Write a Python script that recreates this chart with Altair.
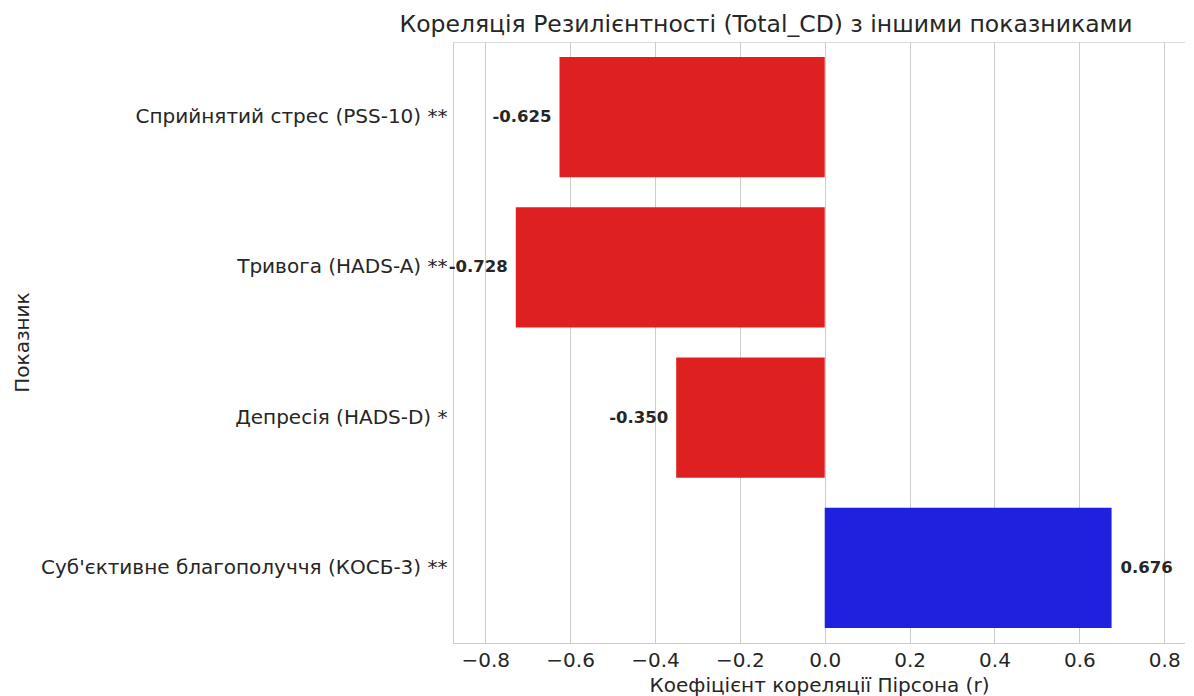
import altair as alt
import pandas as pd

labels = [
    "Сприйнятий стрес (PSS-10) **",
    "Тривога (HADS-A) **",
    "Депресія (HADS-D) *",
    "Суб'єктивне благополуччя (КОСБ-3) **",
]
r_values = [-0.625, -0.728, -0.350, 0.676]
value_text = ["-0.625", "-0.728", "-0.350", "0.676"]
signs = ["neg", "neg", "neg", "pos"]
x_ticks = [-0.8, -0.6, -0.4, -0.2, 0.0, 0.2, 0.4, 0.6, 0.8]

df = pd.DataFrame({"label": labels, "r": r_values, "txt": value_text, "sign": signs})

FONT = "DejaVu Sans"
TXT = "#262626"

x_enc = alt.X(
    "r:Q",
    scale=alt.Scale(domain=[-0.876, 0.849], nice=False, zero=False),
    axis=alt.Axis(
        title="Коефіцієнт кореляції Пірсона (r)",
        values=x_ticks,
        format=".1f",
        ticks=False,
        labelPadding=7,
        titlePadding=5,
        labelFontSize=20,
        titleFontSize=20,
        titleFontWeight="normal",
        labelColor=TXT,
        titleColor=TXT,
        gridColor="#cccccc",
        domainColor="#cccccc",
        labelFont=FONT,
        titleFont=FONT,
    ),
)
y_enc = alt.Y(
    "label:N",
    sort=labels,
    scale=alt.Scale(paddingInner=0.2, paddingOuter=0.1),
    axis=alt.Axis(
        title="Показник",
        ticks=False,
        grid=False,
        labelPadding=6,
        labelLimit=600,
        labelFontSize=20,
        titleFontSize=20,
        titleFontWeight="normal",
        labelColor=TXT,
        titleColor=TXT,
        domainColor="#cccccc",
        labelFont=FONT,
        titleFont=FONT,
        titleAngle=-90,
        titleX=-431,
        titleY=300,
        titleAlign="center",
        titleBaseline="middle",
    ),
)

bars = alt.Chart(df).mark_bar().encode(
    x=x_enc,
    x2=alt.datum(0),
    y=y_enc,
    color=alt.Color(
        "sign:N",
        scale=alt.Scale(domain=["neg", "pos"], range=["#df2020", "#2020df"]),
        legend=None,
    ),
)

text_neg = alt.Chart(df).transform_filter(alt.datum.sign == "neg").mark_text(
    align="right", baseline="middle", dx=-8, fontSize=16.5, fontWeight="bold", font=FONT, color=TXT
).encode(x="r:Q", y=alt.Y("label:N", sort=labels), text="txt:N")

text_pos = alt.Chart(df).transform_filter(alt.datum.sign == "pos").mark_text(
    align="left", baseline="middle", dx=9, fontSize=16.5, fontWeight="bold", font=FONT, color=TXT
).encode(x="r:Q", y=alt.Y("label:N", sort=labels), text="txt:N")

chart = (
    alt.layer(bars, text_neg, text_pos)
    .properties(
        width=732,
        height=601,
        autosize=alt.AutoSizeParams(type="none"),
        padding={"left": 445, "top": 34, "right": 0, "bottom": 53},
        title=alt.TitleParams(
            "Кореляція Резилієнтності (Total_CD) з іншими показниками",
            fontSize=23.5,
            font=FONT,
            fontWeight="normal",
            color=TXT,
            anchor="middle",
            dx=-53,
            baseline="alphabetic",
            offset=-13,
        ),
    )
    .configure_view(stroke=None)
    .configure(background="white")
)

chart.save("out.html", embed_options={"renderer": "svg", "actions": False})
